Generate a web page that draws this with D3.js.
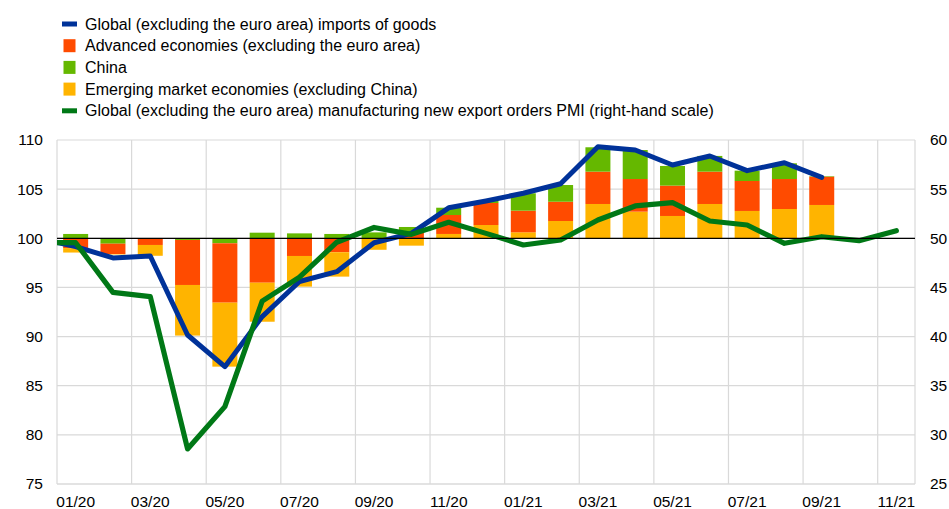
<!DOCTYPE html>
<html>
<head>
<meta charset="utf-8">
<script src="https://cdn.jsdelivr.net/npm/d3@7/dist/d3.min.js"></script>
<style>
  html, body { margin: 0; padding: 0; background: #fff; }
  svg { display: block; }
  text { font-family: "Liberation Sans", Arial, sans-serif; fill: #000; }
</style>
</head>
<body>
<svg id="chart" width="949" height="509"></svg>
<script>
// ---- data ----
const months = ["12/19","01/20","02/20","03/20","04/20","05/20","06/20","07/20","08/20","09/20","10/20","11/20","12/20",
                "01/21","02/21","03/21","04/21","05/21","06/21","07/21","08/21","09/21","10/21","11/21"];
const advanced = [null, -1.0, -1.05, -0.68, -4.58, -6.04, -4.52, -1.8, -1.42, -0.05, 0.61, 1.93, 2.24,
                  2.2, 1.96, 3.29, 3.32, 3.09, 3.29, 3.05, 3.05, 2.88, null, null];
const china = [null, 0.44, -0.55, 0, -0.17, -0.51, 0.57, 0.5, 0.44, 0.6, 0.54, 0.74, 0.2,
               1.77, 1.7, 2.48, 2.95, 2.0, 1.6, 1.05, 1.6, 0.05, null, null];
const emerging = [null, -0.45, -0.05, -1.1, -5.15, -6.51, -3.97, -3.12, -2.48, -1.12, -0.75, 0.44, 1.35,
                  0.61, 1.76, 3.49, 2.71, 2.27, 3.49, 2.78, 2.98, 3.39, null, null];
const imports = [100, 99.15, 98.0, 98.2, 90.16, 86.94, 92.03, 95.6, 96.6, 99.55, 100.5, 103.1, 103.8,
                 104.58, 105.55, 109.32, 108.98, 107.46, 108.37, 106.88, 107.69, 106.2, null, null];
const pmi = [49.55, 49.55, 44.5, 44.06, 28.57, 32.87, 43.6, 46.05, 49.6, 51.1, 50.4, 51.63, 50.5,
             49.32, 49.83, 51.86, 53.29, 53.62, 51.76, 51.35, 49.49, 50.16, 49.76, 50.77];
const xTickLabels = ["01/20","03/20","05/20","07/20","09/20","11/20","01/21","03/21","05/21","07/21","09/21","11/21"];
const leftTicks = [75, 80, 85, 90, 95, 100, 105, 110];
const rightTicks = [25, 30, 35, 40, 45, 50, 55, 60];
const legendLabels = [
  "Global (excluding the euro area) imports of goods",
  "Advanced economies (excluding the euro area)",
  "China",
  "Emerging market economies (excluding China)",
  "Global (excluding the euro area) manufacturing new export orders PMI (right-hand scale)"
];

// ---- styles ----
const C = { blue: "#003299", adv: "#FF4B00", china: "#65B800", em: "#FFB400", pmi: "#007816", grid: "#d9d9d9" };

const svg = d3.select("#chart");
const L = 57, R = 915, T = 140, B = 484;
const nVisible = 23;
const step = (R - L) / nVisible;

const x = d3.scaleBand().domain(months).range([L - step, R]).paddingInner(0.33).paddingOuter(0.165);
const yL = d3.scaleLinear().domain([75, 110]).range([B, T]);
const yR = d3.scaleLinear().domain([25, 60]).range([B, T]);
const cx = m => x(m) + x.bandwidth() / 2;
const boundary = m => x(m) - (x.step() - x.bandwidth()) / 2;

// clip
svg.append("defs").append("clipPath").attr("id", "clip")
  .append("rect").attr("x", L).attr("y", 0).attr("width", R - L).attr("height", 509);

// gridlines
const grid = svg.append("g");
grid.selectAll("line.h").data(leftTicks).enter().append("line")
  .attr("x1", L).attr("x2", R).attr("y1", d => yL(d)).attr("y2", d => yL(d))
  .attr("stroke", C.grid).attr("stroke-width", 1.2);
const vMonths = months.filter((m, i) => i >= 1 && (i - 1) % 2 === 0);
grid.selectAll("line.v").data(vMonths).enter().append("line")
  .attr("x1", d => boundary(d)).attr("x2", d => boundary(d)).attr("y1", T).attr("y2", B)
  .attr("stroke", C.grid).attr("stroke-width", 1.2);
grid.append("line").attr("x1", R).attr("x2", R).attr("y1", T).attr("y2", B)
  .attr("stroke", C.grid).attr("stroke-width", 1.2);

// stacked bars (positives outward: emerging, advanced, china; negatives outward: china, advanced, emerging)
const series = { adv: advanced, china: china, em: emerging };
const posOrder = ["em", "adv", "china"];
const negOrder = ["china", "adv", "em"];
const segs = [];
months.forEach((m, i) => {
  let pos = 100, neg = 100;
  posOrder.forEach(k => {
    const v = series[k][i];
    if (v != null && v > 0) { segs.push({ m, k, y0: pos, y1: pos + v }); pos += v; }
  });
  negOrder.forEach(k => {
    const v = series[k][i];
    if (v != null && v < 0) { segs.push({ m, k, y0: neg + v, y1: neg }); neg += v; }
  });
});
const plot = svg.append("g").attr("clip-path", "url(#clip)");
plot.selectAll("rect.seg").data(segs).enter().append("rect")
  .attr("x", d => x(d.m)).attr("width", x.bandwidth())
  .attr("y", d => yL(d.y1)).attr("height", d => yL(d.y0) - yL(d.y1))
  .attr("fill", d => C[d.k]);

// baseline at 100
svg.append("line").attr("x1", L).attr("x2", R).attr("y1", yL(100)).attr("y2", yL(100))
  .attr("stroke", "#000").attr("stroke-width", 1.3);

// lines
const lineL = d3.line().defined(d => d.v != null).x(d => cx(d.m)).y(d => yL(d.v));
const lineR = d3.line().defined(d => d.v != null).x(d => cx(d.m)).y(d => yR(d.v));
plot.append("path").datum(months.map((m, i) => ({ m, v: imports[i] })))
  .attr("d", lineL).attr("fill", "none").attr("stroke", C.blue).attr("stroke-width", 5)
  .attr("stroke-linejoin", "round").attr("stroke-linecap", "round");
plot.append("path").datum(months.map((m, i) => ({ m, v: pmi[i] })))
  .attr("d", lineR).attr("fill", "none").attr("stroke", C.pmi).attr("stroke-width", 5.2)
  .attr("stroke-linejoin", "round").attr("stroke-linecap", "round");

// axes
const axL = svg.append("g").attr("transform", `translate(${L},0)`)
  .call(d3.axisLeft(yL).tickValues(leftTicks).tickSize(0).tickPadding(14).tickFormat(d3.format("d")));
const axR = svg.append("g").attr("transform", `translate(${R},0)`)
  .call(d3.axisRight(yR).tickValues(rightTicks).tickSize(0).tickPadding(15).tickFormat(d3.format("d")));
const axB = svg.append("g").attr("transform", `translate(0,${B})`)
  .call(d3.axisBottom(x).tickValues(xTickLabels).tickSize(0).tickPadding(14));
[axL, axR, axB].forEach(a => {
  a.select(".domain").remove();
  a.selectAll("text").style("font-family", '"Liberation Sans", Arial, sans-serif')
    .style("font-size", "15.5px").attr("fill", "#000");
});
axB.selectAll("text").attr("dy", null).attr("y", 22.5);
// bottom axis line
svg.append("line").attr("x1", L).attr("x2", R).attr("y1", B).attr("y2", B)
  .attr("stroke", C.grid).attr("stroke-width", 1.2);

// legend
const legY = [24, 45.7, 67.4, 89.1, 110.8];
const legColors = [C.blue, C.adv, C.china, C.em, C.pmi];
const leg = svg.append("g");
legendLabels.forEach((t, i) => {
  if (i === 0 || i === 4) {
    leg.append("rect").attr("x", 62).attr("y", legY[i] - 2.5).attr("width", 15).attr("height", 5).attr("fill", legColors[i]);
  } else {
    leg.append("rect").attr("x", 63.5).attr("y", legY[i] - 6.5).attr("width", 12).attr("height", 13).attr("fill", legColors[i]);
  }
  leg.append("text").attr("x", 85).attr("y", legY[i]).attr("dy", "0.35em")
    .style("font-size", "16px").text(t);
});
</script>
</body>
</html>
